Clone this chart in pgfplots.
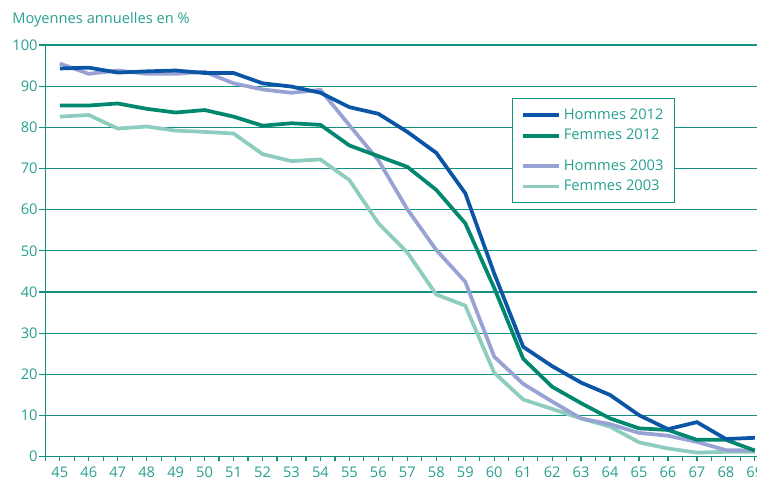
\documentclass[border=0pt]{standalone}
\usepackage{fontspec}
\setmainfont{Open Sans}
\usepackage{pgfplots}
\pgfplotsset{compat=1.18}
\definecolor{txt}{RGB}{40,160,145}
\definecolor{grd}{RGB}{20,145,128}
\definecolor{h12}{RGB}{10,85,165}
\definecolor{f12}{RGB}{0,135,110}
\definecolor{h03}{RGB}{152,163,212}
\definecolor{f03}{RGB}{142,204,191}
\newcommand{\lblfont}{\fontsize{11}{13}\selectfont}
\begin{document}
\begin{tikzpicture}
\begin{axis}[
  at={(34pt,16.7pt)}, anchor=south west,
  scale only axis, width=543pt, height=308.8pt,
  xmin=44.5, xmax=69.5, ymin=0, ymax=100,
  axis x line=bottom, axis y line=left,
  axis line style={-, draw=grd, line width=0.9pt},
  ytick={0,10,...,100},
  ymajorgrids, grid style={grd, line width=0.9pt},
  xtick={44.5,45.5,...,68.5}, xticklabels={},
  extra x ticks={45,46,...,69},
  extra x tick style={major tick length=0pt, grid=none},
  tick align=outside,
  major tick length=4.5pt,
  xtick style={/pgfplots/major tick length=3.2pt},
  tick style={grd, line width=0.9pt},
  every tick label/.append style={font=\lblfont, text=txt},
  xticklabel style={inner sep=0pt, yshift=-7.3pt},
  yticklabel style={xshift=2.2pt},
  /pgf/number format/assume math mode=true,
  ylabel={Moyennes annuelles en \%},
  ylabel style={rotate=-90, at={(axis description cs:-0.046,1.0527)}, anchor=base west, font=\lblfont, text=txt, inner sep=0pt},
  reverse legend,
  legend style={at={(0.645,0.8705)}, anchor=north west, draw=grd, line width=0.8pt, fill=white, font=\lblfont, text=txt, inner xsep=6pt, inner ysep=5.5pt, row sep=1.9pt},
  legend cell align=left,
  legend image code/.code={\draw[#1] (0pt,0pt) -- (27.5pt,0pt);},
  every axis plot/.append style={line width=2.8pt},
]
\addplot[f03] coordinates {(45,82.6) (46,83.0) (47,79.7) (48,80.2) (49,79.2) (50,78.9) (51,78.5) (52,73.5) (53,71.8) (54,72.2) (55,67.2) (56,56.7) (57,49.6) (58,39.4) (59,36.7) (60,20.4) (61,13.9) (62,11.6) (63,9.3) (64,7.3) (65,3.5) (66,2.0) (67,1.0) (68,1.2) (69,1.2)};
\addlegendentry{Femmes 2003}
\addplot[h03] coordinates {(45,95.5) (46,93.0) (47,93.8) (48,93.0) (49,93.0) (50,93.5) (51,90.7) (52,89.2) (53,88.4) (54,89.1) (55,80.5) (56,72.0) (57,60.1) (58,50.2) (59,42.5) (60,24.3) (61,17.7) (62,13.4) (63,9.3) (64,7.9) (65,5.8) (66,5.1) (67,3.6) (68,1.6) (69,1.5)};
\addlegendentry{Hommes 2003}
\addlegendimage{empty legend}
\addlegendentry{}
\addplot[f12] coordinates {(45,85.3) (46,85.3) (47,85.8) (48,84.5) (49,83.6) (50,84.2) (51,82.6) (52,80.4) (53,81.0) (54,80.6) (55,75.6) (56,73.0) (57,70.4) (58,64.8) (59,56.7) (60,41.0) (61,23.8) (62,17.0) (63,13.0) (64,9.3) (65,6.9) (66,6.5) (67,4.1) (68,4.1) (69,1.5)};
\addlegendentry{Femmes 2012}
\addplot[h12] coordinates {(45,94.3) (46,94.5) (47,93.3) (48,93.6) (49,93.8) (50,93.2) (51,93.2) (52,90.7) (53,89.9) (54,88.4) (55,84.9) (56,83.3) (57,78.9) (58,73.8) (59,64.0) (60,44.5) (61,26.7) (62,22.0) (63,18.0) (64,15.0) (65,10.1) (66,6.7) (67,8.4) (68,4.3) (69,4.6)};
\addlegendentry{Hommes 2012}
\end{axis}
\pgfresetboundingbox
\path[use as bounding box] (0,0) rectangle (567.75pt,359.25pt);
\end{tikzpicture}
\end{document}
